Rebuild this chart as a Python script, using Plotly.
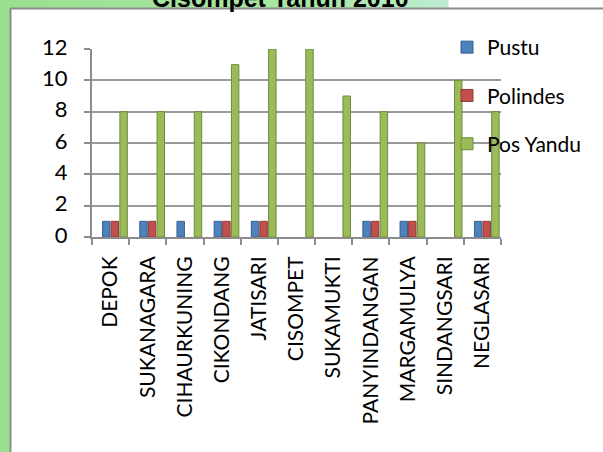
import plotly.graph_objects as go

# ---------------- data ----------------
categories = ["DEPOK", "SUKANAGARA", "CIHAURKUNING", "CIKONDANG", "JATISARI",
              "CISOMPET", "SUKAMUKTI", "PANYINDANGAN", "MARGAMULYA",
              "SINDANGSARI", "NEGLASARI"]
pustu = [1, 1, 1, 1, 1, 0, 0, 1, 1, 0, 1]
polindes = [1, 1, 0, 1, 1, 0, 0, 1, 1, 0, 1]
pos_yandu = [8, 8, 8, 11, 12, 12, 9, 8, 6, 10, 8]
series_names = ["Pustu", "Polindes", "Pos Yandu"]
y_tick_values = [0, 2, 4, 6, 8, 10, 12]
title_text = "Cisompet Tahun 2010"

# ---------------- styling ----------------
W, H = 603, 452
FONT = "Lato"
fill_colors = ["#4F81BD", "#C0504D", "#9BBB59"]
edge_colors = ["#36608F", "#8E3835", "#6E8A3A"]
bar_offsets = [-0.215, 0.015, 0.25]
bar_width = 0.2


def px(x):
    return x / W


def py(y):
    return 1 - y / H


fig = go.Figure()
for name, vals, fc, ec, off in zip(series_names, [pustu, polindes, pos_yandu],
                                   fill_colors, edge_colors, bar_offsets):
    fig.add_trace(go.Bar(
        x=categories, y=vals, name=name, legendgroup=name,
        offset=off, width=bar_width,
        marker=dict(color=fc,
                    line=dict(color=ec, width=[1 if v > 0 else 0 for v in vals])),
    ))

shapes = []
# green left strip
shapes.append(dict(type="rect", xref="paper", yref="paper", x0=0, x1=px(10),
                   y0=0, y1=1, fillcolor="#9BE08F", line=dict(width=0),
                   layer="below"))
# top gradient band
n = 45
start = (155, 224, 145)
mid = (172, 231, 168)
end = (190, 236, 210)
for i in range(n):
    t = i / (n - 1)
    if t < 0.75:
        u = t / 0.75
        c = tuple(int(start[k] + (mid[k] - start[k]) * u) for k in range(3))
    else:
        u = (t - 0.75) / 0.25
        c = tuple(int(mid[k] + (end[k] - mid[k]) * u) for k in range(3))
    x0 = 448 * i / n
    x1 = 448 * (i + 1) / n + 0.5
    shapes.append(dict(type="rect", xref="paper", yref="paper",
                       x0=px(x0), x1=px(x1), y0=py(9), y1=1,
                       fillcolor="rgb(%d,%d,%d)" % c, line=dict(width=0),
                       layer="below"))
# grey frame
shapes.append(dict(type="line", xref="paper", yref="paper", x0=px(10), x1=1,
                   y0=py(8.5), y1=py(8.5), line=dict(color="#8C8C8C", width=2)))
shapes.append(dict(type="line", xref="paper", yref="paper", x0=px(10.5),
                   x1=px(10.5), y0=0, y1=py(8), line=dict(color="#8C8C8C", width=2)))

fig.update_layout(
    width=W, height=H,
    margin=dict(l=0, r=0, t=0, b=0, pad=0),
    template="none",
    paper_bgcolor="white",
    plot_bgcolor="rgba(0,0,0,0)",
    barmode="overlay",
    shapes=shapes,
    font=dict(family=FONT, size=21, color="black"),
    showlegend=True,
    legend=dict(
        x=px(447), y=py(27), xanchor="left", yanchor="top",
        bgcolor="rgba(0,0,0,0)", borderwidth=0,
        font=dict(family=FONT, size=21, color="black"),
        tracegroupgap=18, traceorder="grouped",
    ),
    annotations=[dict(
        text="<b>" + title_text + "</b>", xref="paper", yref="paper",
        x=px(280), y=py(-2), xanchor="center", yanchor="middle",
        showarrow=False, font=dict(family="Liberation Sans", size=25,
                                   color="black"),
    )],
    xaxis=dict(
        domain=[px(92), px(501)],
        type="category",
        showgrid=False, showline=True, linecolor="#8C8C8C", linewidth=2,
        ticks="outside", ticklen=6, tickcolor="#8C8C8C", tickwidth=2,
        tickson="boundaries", tickangle=-90,
        tickfont=dict(family=FONT, size=21, color="black"),
        ticklabelstandoff=9,
        automargin=False, zeroline=False,
    ),
    yaxis=dict(
        domain=[py(237), py(49)],
        range=[0, 12],
        tickvals=y_tick_values,
        showgrid=True, gridcolor="#9A9A9A", gridwidth=2,
        showline=True, linecolor="#8C8C8C", linewidth=2,
        ticks="outside", ticklen=6, tickcolor="#8C8C8C", tickwidth=2,
        tickfont=dict(family=FONT, size=22, color="black"),
        ticklabelstandoff=12, ticklabelshift=-2,
        automargin=False, zeroline=False,
    ),
)

fig.write_html(
    "out.html",
    config={"displayModeBar": False},
    post_script="document.body.style.margin='0';document.body.style.padding='0';",
)
